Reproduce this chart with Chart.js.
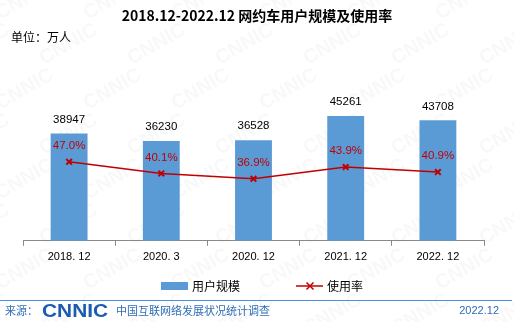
<!DOCTYPE html>
<html lang="zh">
<head>
    <meta charset="UTF-8">
    <title>网约车用户规模及使用率</title>
    <script src="https://cdn.jsdelivr.net/npm/chart.js"></script>
    <style>
        body {
            margin: 0;
            padding: 0;
            background: #ffffff;
        }
        #wrap {
            width: 514px;
            height: 322px;
        }
    </style>
</head>
<body>
    <div id="wrap"><canvas id="chart" width="514" height="322"></canvas></div>
    <script>
        // chart data
        var categories = ['2018. 12', '2020. 3', '2020. 12', '2021. 12', '2022. 12'];
        var users = [38947, 36230, 36528, 45261, 43708];
        var usageRate = [47.0, 40.1, 36.9, 43.9, 40.9];

        var cjk = '"Noto Sans CJK SC", sans-serif';
        var latin = '"Liberation Sans", Arial, sans-serif';

        // faint CNNIC watermark behind everything
        var watermark = {
            id: 'watermark',
            beforeDraw: function(chart) {
                var ctx = chart.ctx;
                ctx.save();
                ctx.fillStyle = 'rgba(0, 0, 0, 0.028)';
                ctx.font = 'bold 20px ' + latin;
                for (var row = -1; row < 8; row++) {
                    for (var col = -1; col < 7; col++) {
                        ctx.save();
                        ctx.translate(col * 88 + (row % 2) * 44, row * 45 + 20);
                        ctx.rotate(-Math.PI / 6);
                        ctx.fillText('CNNIC', 0, 0);
                        ctx.restore();
                    }
                }
                ctx.restore();
            }
        };

        // title, unit, value labels, legend and footer
        var decorations = {
            id: 'decorations',
            afterDatasetsDraw: function(chart) {
                var ctx = chart.ctx;
                ctx.save();
                ctx.textAlign = 'center';
                ctx.textBaseline = 'middle';

                ctx.font = '11.5px ' + latin;
                ctx.fillStyle = '#000000';
                chart.getDatasetMeta(0).data.forEach(function(bar, i) {
                    ctx.fillText(users[i], bar.x, bar.y - 14);
                });

                ctx.fillStyle = '#C00000';
                chart.getDatasetMeta(1).data.forEach(function(pt, i) {
                    ctx.fillText(usageRate[i].toFixed(1) + '%', pt.x, pt.y - 16);
                });
                ctx.restore();
            },
            afterDraw: function(chart) {
                var ctx = chart.ctx;
                ctx.save();
                ctx.textBaseline = 'middle';

                ctx.fillStyle = '#000000';
                ctx.textAlign = 'center';
                ctx.font = 'bold 14px ' + cjk;
                ctx.fillText('2018.12-2022.12 网约车用户规模及使用率', 257, 16);

                ctx.textAlign = 'left';
                ctx.font = '12px ' + cjk;
                ctx.fillText('单位：万人', 11, 37);

                // legend
                ctx.fillStyle = '#5B9BD5';
                ctx.fillRect(161, 282, 27, 8);
                ctx.fillStyle = '#000000';
                ctx.font = '12px ' + cjk;
                ctx.fillText('用户规模', 192, 286);

                ctx.strokeStyle = '#C00000';
                ctx.lineWidth = 1.5;
                ctx.beginPath();
                ctx.moveTo(296, 286);
                ctx.lineTo(323, 286);
                ctx.stroke();
                ctx.beginPath();
                ctx.moveTo(306.5, 282.5);
                ctx.lineTo(313.5, 289.5);
                ctx.moveTo(313.5, 282.5);
                ctx.lineTo(306.5, 289.5);
                ctx.stroke();
                ctx.fillText('使用率', 327, 286);

                // footer
                ctx.strokeStyle = '#4A90D9';
                ctx.lineWidth = 1;
                ctx.beginPath();
                ctx.moveTo(0, 300.5);
                ctx.lineTo(512, 300.5);
                ctx.stroke();

                ctx.fillStyle = '#2F6DB5';
                ctx.font = '11px ' + cjk;
                ctx.fillText('来源：', 5, 311);
                ctx.fillText('中国互联网络发展状况统计调查', 116, 311);
                ctx.font = '11px ' + latin;
                ctx.textAlign = 'right';
                ctx.fillText('2022.12', 499, 311);

                ctx.textAlign = 'left';
                ctx.fillStyle = '#1C5CB0';
                ctx.font = 'bold 19px ' + latin;
                ctx.save();
                ctx.translate(42, 312);
                ctx.scale(1.1, 0.95);
                ctx.fillText('CNNIC', 0, 0);
                ctx.restore();

                ctx.restore();
            }
        };

        var ctx = document.getElementById('chart').getContext('2d');
        var myChart = new Chart(ctx, {
            data: {
                labels: categories,
                datasets: [{
                    type: 'bar',
                    label: '用户规模',
                    data: users,
                    backgroundColor: '#5B9BD5',
                    barPercentage: 0.4,
                    categoryPercentage: 1.0,
                    yAxisID: 'y',
                    order: 2
                }, {
                    type: 'line',
                    label: '使用率',
                    data: usageRate,
                    borderColor: '#C00000',
                    borderWidth: 1.5,
                    pointStyle: 'crossRot',
                    pointRadius: 4,
                    pointBorderWidth: 2,
                    pointBorderColor: '#C00000',
                    yAxisID: 'y2',
                    order: 1
                }]
            },
            options: {
                responsive: false,
                animation: false,
                layout: {
                    padding: { left: 23, right: 30, top: 103, bottom: 53 }
                },
                plugins: {
                    legend: { display: false },
                    tooltip: { enabled: false }
                },
                scales: {
                    x: {
                        offset: true,
                        border: { display: true, color: '#898989', width: 1 },
                        grid: {
                            offset: true,
                            drawOnChartArea: false,
                            drawTicks: true,
                            tickLength: 5,
                            color: '#898989'
                        },
                        ticks: {
                            color: '#000000',
                            font: { size: 11, family: latin },
                            padding: 5,
                            maxRotation: 0
                        }
                    },
                    y: {
                        display: false,
                        min: 0,
                        max: 50000
                    },
                    y2: {
                        display: false,
                        position: 'right',
                        min: 0,
                        max: 82
                    }
                }
            },
            plugins: [watermark, decorations]
        });
    </script>
</body>
</html>
